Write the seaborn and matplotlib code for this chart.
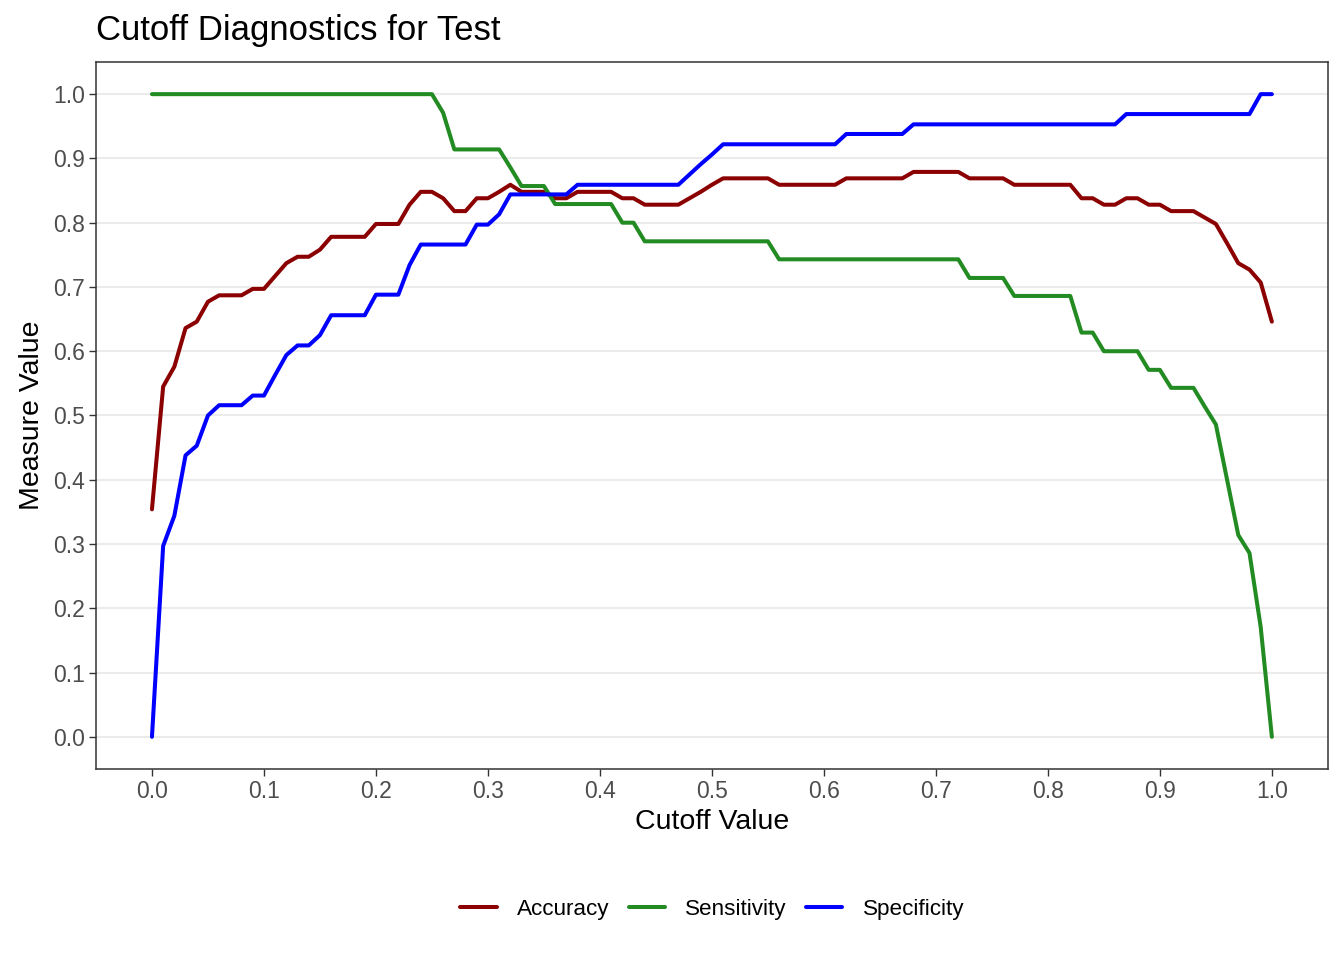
import numpy as np
import pandas as pd
import matplotlib
matplotlib.use("Agg")
import matplotlib.pyplot as plt
import seaborn as sns

# ===============================
# DATA
# ===============================
cutoff = [round(i / 100, 2) for i in range(101)]

accuracy = [
    0.354, 0.545, 0.576, 0.636, 0.646, 0.677, 0.687, 0.687, 0.687, 0.697,
    0.697, 0.717, 0.737, 0.747, 0.747, 0.758, 0.778, 0.778, 0.778, 0.778,
    0.798, 0.798, 0.798, 0.828, 0.848, 0.848, 0.838, 0.818, 0.818, 0.838,
    0.838, 0.848, 0.859, 0.848, 0.848, 0.848, 0.838, 0.838, 0.848, 0.848,
    0.848, 0.848, 0.838, 0.838, 0.828, 0.828, 0.828, 0.828, 0.838, 0.848,
    0.859, 0.869, 0.869, 0.869, 0.869, 0.869, 0.859, 0.859, 0.859, 0.859,
    0.859, 0.859, 0.869, 0.869, 0.869, 0.869, 0.869, 0.869, 0.879, 0.879,
    0.879, 0.879, 0.879, 0.869, 0.869, 0.869, 0.869, 0.859, 0.859, 0.859,
    0.859, 0.859, 0.859, 0.838, 0.838, 0.828, 0.828, 0.838, 0.838, 0.828,
    0.828, 0.818, 0.818, 0.818, 0.808, 0.798, 0.768, 0.737, 0.727, 0.707,
    0.646,
]

sensitivity = [
    1.000, 1.000, 1.000, 1.000, 1.000, 1.000, 1.000, 1.000, 1.000, 1.000,
    1.000, 1.000, 1.000, 1.000, 1.000, 1.000, 1.000, 1.000, 1.000, 1.000,
    1.000, 1.000, 1.000, 1.000, 1.000, 1.000, 0.971, 0.914, 0.914, 0.914,
    0.914, 0.914, 0.886, 0.857, 0.857, 0.857, 0.829, 0.829, 0.829, 0.829,
    0.829, 0.829, 0.800, 0.800, 0.771, 0.771, 0.771, 0.771, 0.771, 0.771,
    0.771, 0.771, 0.771, 0.771, 0.771, 0.771, 0.743, 0.743, 0.743, 0.743,
    0.743, 0.743, 0.743, 0.743, 0.743, 0.743, 0.743, 0.743, 0.743, 0.743,
    0.743, 0.743, 0.743, 0.714, 0.714, 0.714, 0.714, 0.686, 0.686, 0.686,
    0.686, 0.686, 0.686, 0.629, 0.629, 0.600, 0.600, 0.600, 0.600, 0.571,
    0.571, 0.543, 0.543, 0.543, 0.514, 0.486, 0.400, 0.314, 0.286, 0.171,
    0.000,
]

specificity = [
    0.000, 0.297, 0.344, 0.438, 0.453, 0.500, 0.516, 0.516, 0.516, 0.531,
    0.531, 0.563, 0.594, 0.609, 0.609, 0.625, 0.656, 0.656, 0.656, 0.656,
    0.688, 0.688, 0.688, 0.734, 0.766, 0.766, 0.766, 0.766, 0.766, 0.797,
    0.797, 0.813, 0.844, 0.844, 0.844, 0.844, 0.844, 0.844, 0.859, 0.859,
    0.859, 0.859, 0.859, 0.859, 0.859, 0.859, 0.859, 0.859, 0.875, 0.891,
    0.906, 0.922, 0.922, 0.922, 0.922, 0.922, 0.922, 0.922, 0.922, 0.922,
    0.922, 0.922, 0.938, 0.938, 0.938, 0.938, 0.938, 0.938, 0.953, 0.953,
    0.953, 0.953, 0.953, 0.953, 0.953, 0.953, 0.953, 0.953, 0.953, 0.953,
    0.953, 0.953, 0.953, 0.953, 0.953, 0.953, 0.953, 0.969, 0.969, 0.969,
    0.969, 0.969, 0.969, 0.969, 0.969, 0.969, 0.969, 0.969, 0.969, 1.000,
    1.000,
]

measures = ["Accuracy", "Sensitivity", "Specificity"]
colors = ["darkred", "forestgreen", "blue"]
ticks = [round(i / 10, 1) for i in range(11)]

df = pd.DataFrame({
    "cutoff": cutoff * 3,
    "value": accuracy + sensitivity + specificity,
    "measure": np.repeat(measures, len(cutoff)),
})

# ===============================
# PLOT
# ===============================
sns.set_style("white")
plt.rcParams["font.family"] = ["Liberation Sans", "DejaVu Sans"]

fig = plt.figure(figsize=(13.44, 9.6), dpi=100)
ax = fig.add_axes([0.0714, 0.199, 0.9166, 0.7364])

sns.lineplot(data=df, x="cutoff", y="value", hue="measure",
             palette=dict(zip(measures, colors)), linewidth=2.9,
             ax=ax, legend=False)

ax.set_xlim(-0.05, 1.05)
ax.set_ylim(-0.05, 1.05)
ax.set_xticks(ticks)
ax.set_yticks(ticks)
ax.set_xticklabels([f"{t:.1f}" for t in ticks])
ax.set_yticklabels([f"{t:.1f}" for t in ticks])
ax.tick_params(axis="both", bottom=True, left=True, direction="out",
               length=5, width=1.0, color="#333333",
               labelcolor="#4D4D4D", labelsize=16.5, pad=3)

ax.grid(axis="y", color="#EBEBEB", linewidth=1.5)
ax.grid(axis="x", visible=False)
ax.set_axisbelow(True)
for sp in ax.spines.values():
    sp.set_color("#333333")
    sp.set_linewidth(1.1)

ax.set_xlabel("Cutoff Value", fontsize=20.5, color="black", labelpad=4)
ax.set_ylabel("Measure Value", fontsize=20.5, color="black", labelpad=6)
fig.text(0.0714, 0.968, "Cutoff Diagnostics for Test", fontsize=25,
         ha="left", va="center", color="black")

handles = [plt.Line2D([], [], color=c, linewidth=2.9) for c in colors]
leg = fig.legend(handles, measures, loc="center", bbox_to_anchor=(0.530, 0.053),
                 ncol=3, frameon=False, fontsize=16.2, handlelength=1.62,
                 handletextpad=0.9, columnspacing=0.85)
for t in leg.get_texts():
    t.set_color("black")

fig.savefig("out.png", dpi=100)
plt.close(fig)
